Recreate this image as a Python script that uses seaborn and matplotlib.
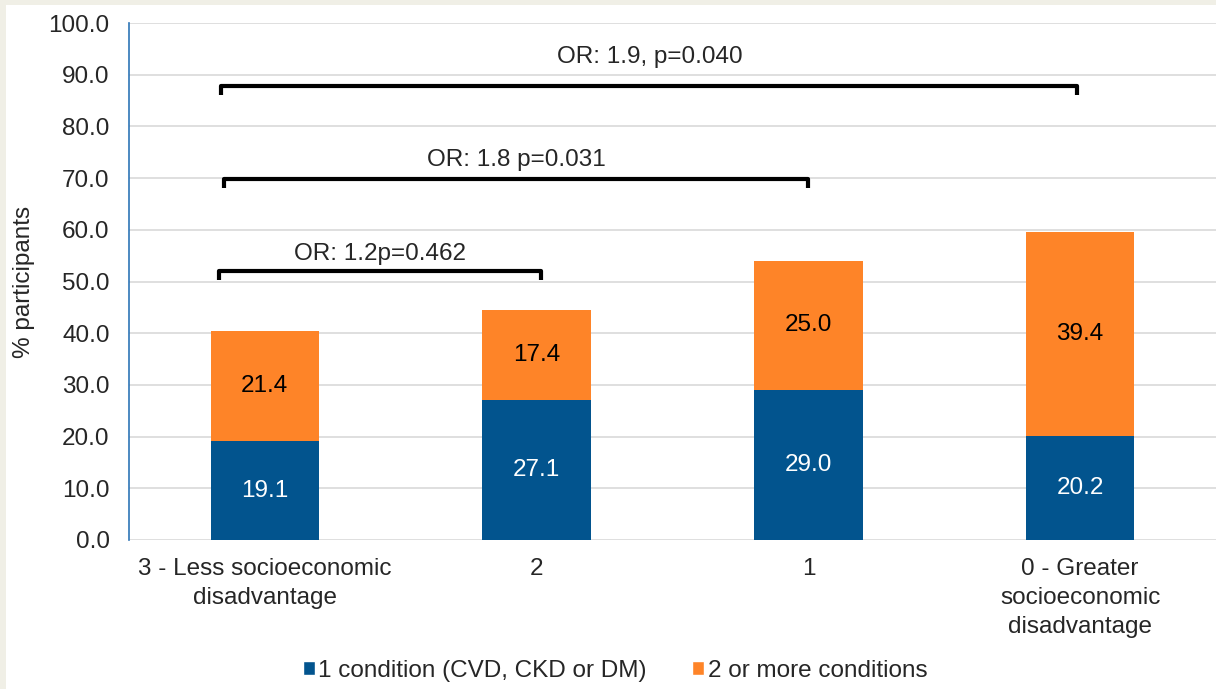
import matplotlib
matplotlib.use("Agg")
import matplotlib.pyplot as plt
from matplotlib.patches import Patch
import seaborn as sns
import pandas as pd

categories = ["3 - Less socioeconomic\ndisadvantage", "2", "1",
              "0 - Greater\nsocioeconomic\ndisadvantage"]
one_condition = [19.1, 27.1, 29.0, 20.2]
two_plus = [21.4, 17.4, 25.0, 39.4]
series_names = ["1 condition (CVD, CKD or DM)", "2 or more conditions"]
yticks = [0, 10, 20, 30, 40, 50, 60, 70, 80, 90, 100]

# significance brackets: (x_start, x_end, height, label_y, label)
brackets = [(-0.17, 1.015, 52.0, 55.3, "OR: 1.2p=0.462"),
            (-0.15, 2.0, 69.8, 73.5, "OR: 1.8 p=0.031"),
            (-0.16, 2.99, 87.8, 93.4, "OR: 1.9, p=0.040")]

BLUE = "#02548e"
ORANGE = "#fe8428"
BG = "#f0efe6"
FS = 17.5

sns.set_theme(style="white")
plt.rcParams['font.family'] = ['Liberation Sans', 'DejaVu Sans']

df = pd.DataFrame({"cat": categories,
                   "one": one_condition,
                   "two": two_plus})
df["total"] = df["one"] + df["two"]

fig = plt.figure(figsize=(12.16, 6.89), dpi=100, facecolor=BG)
# white panel
fig.patches.append(plt.Rectangle((6/1216, 0), 1 - 6/1216, 1 - 5/689,
                                 transform=fig.transFigure, facecolor="white",
                                 edgecolor="none", zorder=-10))
ax = fig.add_axes([129/1216, 149/689, 1 - 129/1216, 517/689])
ax.set_facecolor("none")

sns.barplot(data=df, x="cat", y="total", color=ORANGE, width=0.40,
            saturation=1, ax=ax, zorder=3, linewidth=0)
sns.barplot(data=df, x="cat", y="one", color=BLUE, width=0.40,
            saturation=1, ax=ax, zorder=3, linewidth=0)

for i, (a, b) in enumerate(zip(one_condition, two_plus)):
    ax.text(i, a / 2, f"{a:.1f}", ha="center", va="center", color="white", fontsize=FS)
    ax.text(i, a + b / 2, f"{b:.1f}", ha="center", va="center", color="black", fontsize=FS)

for x0, x1, h, ly, label in brackets:
    ax.plot([x0, x0, x1, x1], [h - 1.8, h, h, h - 1.8], color="black", lw=3,
            solid_joinstyle="round", solid_capstyle="butt", zorder=4)
    ax.text((x0 + x1) / 2, ly, label, ha="center", va="center", fontsize=FS)

ax.set_xlim(-0.5, 3.5)
ax.set_ylim(0, 100)
ax.set_yticks(yticks)
ax.set_yticklabels([f"{t:.1f}" for t in yticks], fontsize=FS)
ax.tick_params(axis="x", labelsize=FS, pad=13, length=0)
for lbl in ax.get_xticklabels():
    lbl.set_linespacing(1.4)
ax.tick_params(axis="y", length=0, pad=14)
ax.set_xlabel("")
ax.set_ylabel("% participants", fontsize=FS, labelpad=10)
ax.yaxis.grid(True, color="#d9d9d9", lw=1.2, zorder=0)
ax.set_axisbelow(True)
for s in ["top", "right", "bottom"]:
    ax.spines[s].set_visible(False)
ax.spines["left"].set_color("#2e75b6")
ax.spines["left"].set_linewidth(1.2)

handles = [Patch(facecolor=BLUE, label=series_names[0]),
           Patch(facecolor=ORANGE, label=series_names[1])]
fig.legend(handles=handles, loc="center", bbox_to_anchor=(615/1216, 1 - 671/689),
           ncol=2, frameon=False, fontsize=FS, handlelength=0.5, handleheight=0.5,
           handletextpad=0.15, columnspacing=1.85)

fig.savefig("out.png", dpi=100, facecolor=BG)
